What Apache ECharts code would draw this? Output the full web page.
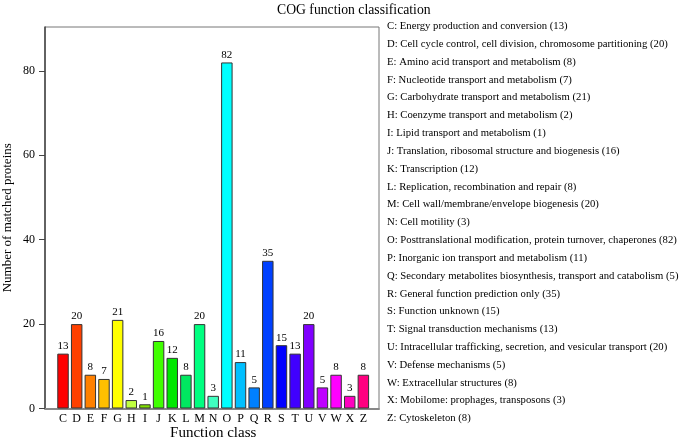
<!DOCTYPE html>
<html>
<head>
<meta charset="utf-8">
<script src="https://cdn.jsdelivr.net/npm/echarts@6/dist/echarts.min.js"></script>
<style>html,body{margin:0;padding:0;background:#fff}#c{width:685px;height:440px}</style>
</head>
<body>
<div id="c"></div>
<script>
var categories = ['C','D','E','F','G','H','I','J','K','L','M','N','O','P','Q','R','S','T','U','V','W','X','Z'];
var values = [13,20,8,7,21,2,1,16,12,8,20,3,82,11,5,35,15,13,20,5,8,3,8];
var descriptions = [
  'Energy production and conversion',
  'Cell cycle control, cell division, chromosome partitioning',
  'Amino acid transport and metabolism',
  'Nucleotide transport and metabolism',
  'Carbohydrate transport and metabolism',
  'Coenzyme transport and metabolism',
  'Lipid transport and metabolism',
  'Translation, ribosomal structure and biogenesis',
  'Transcription',
  'Replication, recombination and repair',
  'Cell wall/membrane/envelope biogenesis',
  'Cell motility',
  'Posttranslational modification, protein turnover, chaperones',
  'Inorganic ion transport and metabolism',
  'Secondary metabolites biosynthesis, transport and catabolism',
  'General function prediction only',
  'Function unknown',
  'Signal transduction mechanisms',
  'Intracellular trafficking, secretion, and vesicular transport',
  'Defense mechanisms',
  'Extracellular structures',
  'Mobilome: prophages, transposons',
  'Cytoskeleton'
];
var colors = ['#FF0000','#FF4000','#FF8000','#FFBF00','#FFFF00','#C0FF40','#80E000','#40FF00','#00E800','#00E860','#00FF80','#40FFC0','#00FFFF','#00BFFF','#0080FF','#0040FF','#0000FF','#4000FF','#8000FF','#BF00FF','#FF00FF','#FF00BF','#FF0080'];
var yTicks = [0,20,40,60,80];

var FONT = '"Liberation Serif","DejaVu Serif",serif';
var legendText = categories.map(function(c,i){ return c + ': ' + descriptions[i] + ' (' + values[i] + ')'; }).join('\n');
var yMax = 90.4;

var chart = echarts.init(document.getElementById('c'), null, {renderer:'canvas'});
chart.setOption({
  animation:false,
  backgroundColor:'#fff',
  title:[
    {text:'COG function classification', left:272, top:-2,
     textStyle:{fontFamily:FONT, fontSize:13.7, fontWeight:'normal', color:'#000'}},
    {text:legendText, left:382, top:12.5,
     textStyle:{fontFamily:FONT, fontSize:10.7, fontWeight:'normal', color:'#000', lineHeight:17.82}}
  ],
  grid:[
    {left:45, right:306, top:27, bottom:31.5, outerBoundsMode:'none', containLabel:false,
     show:true, borderColor:'#777', borderWidth:1, backgroundColor:'transparent'},
    {left:56.2, width:314, top:27, bottom:31.5, outerBoundsMode:'none', containLabel:false}
  ],
  xAxis:[
    {gridIndex:0, type:'value', min:0, max:1, axisLine:{show:true, lineStyle:{color:'#888', width:2}},
     axisTick:{show:false}, axisLabel:{show:false}, splitLine:{show:false}},
    {gridIndex:1, type:'category', data:categories, axisLine:{show:false}, axisTick:{show:false},
     axisLabel:{fontFamily:FONT, fontSize:12, color:'#000', margin:4, interval:0},
     name:'Function class', nameLocation:'middle', nameGap:17, nameMoveOverlap:false,
     nameTextStyle:{fontFamily:FONT, fontSize:15, color:'#000'}}
  ],
  yAxis:[
    {gridIndex:0, type:'value', min:0, max:yMax, interval:20,
     axisLine:{show:true, lineStyle:{color:'#444', width:1.5}},
     axisTick:{show:true, inside:false, length:6, lineStyle:{color:'#444'}},
     axisLabel:{fontFamily:FONT, fontSize:12, color:'#000', margin:10, showMaxLabel:false,
       formatter:function(v){ return yTicks.indexOf(v) >= 0 ? String(v) : ''; }},
     splitLine:{show:false},
     name:'Number of matched proteins', nameLocation:'middle', nameGap:31,
     nameTextStyle:{fontFamily:FONT, fontSize:13, color:'#000'}},
    {gridIndex:1, type:'value', min:0, max:yMax, show:false, splitLine:{show:false}}
  ],
  series:[{
    type:'bar', xAxisIndex:1, yAxisIndex:1,
    barCategoryGap:'16%',
    data: values.map(function(v,i){ return {value:v, itemStyle:{color:colors[i]}}; }),
    itemStyle:{borderColor:'#333', borderWidth:1},
    label:{show:true, position:'top', distance:2, fontFamily:FONT, fontSize:11, color:'#000'}
  }]
});
</script>
</body>
</html>
